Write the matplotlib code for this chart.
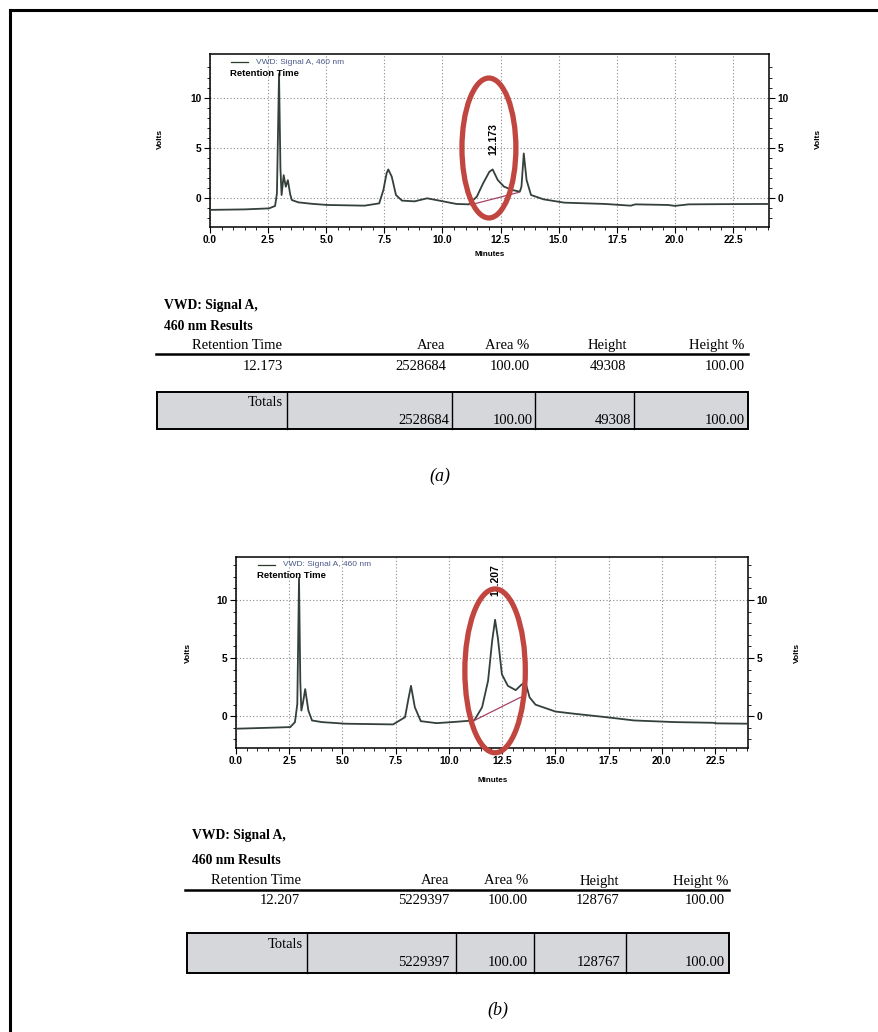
import matplotlib
matplotlib.use("Agg")
import matplotlib.pyplot as plt
from matplotlib.patches import Ellipse, Rectangle
from matplotlib.lines import Line2D

W, H = 879, 1032

# ---------------- data ----------------
# chromatogram (a)
t_a = [0.0, 1.5, 2.54, 2.8, 2.88, 2.97, 3.03, 3.08, 3.17, 3.26, 3.35, 3.45, 3.52, 3.8, 4.4, 5.04,
       6.65, 7.28, 7.46, 7.6, 7.67, 7.82, 8.0, 8.26, 8.8, 9.34, 9.87, 10.6, 11.13, 11.48, 11.75,
       12.02, 12.16, 12.38, 12.65, 13.0, 13.33, 13.4, 13.5, 13.62, 13.81, 14.35, 15.24, 17.0,
       18.1, 18.3, 19.7, 20.0, 20.6, 22.0, 24.1]
v_a = [-1.15, -1.1, -1.0, -0.76, 0.5, 12.4, 3.0, 0.33, 2.3, 1.15, 1.8, 0.4, -0.17, -0.4, -0.55, -0.66,
       -0.73, -0.5, 0.83, 2.5, 2.87, 2.15, 0.33, -0.23, -0.3, 0.0, -0.23, -0.56, -0.6, 0.17, 1.49,
       2.64, 2.87, 1.82, 1.16, 0.83, 0.66, 1.16, 4.46, 1.82, 0.33, -0.1, -0.43, -0.56,
       -0.73, -0.6, -0.66, -0.75, -0.6, -0.58, -0.56]
base_a_t = [11.2, 13.3]
base_a_v = [-0.65, 0.6]

# chromatogram (b)
t_b = [0.0, 1.5, 2.55, 2.77, 2.88, 2.96, 3.02, 3.07, 3.15, 3.25, 3.4, 3.57, 4.03, 5.15, 7.38,
       7.94, 8.1, 8.22, 8.4, 8.68, 9.42, 10.16, 10.72, 11.19, 11.56, 11.84, 12.03, 12.17, 12.3,
       12.49, 12.77, 13.14, 13.4, 13.6, 13.79, 14.07, 15.0, 15.93, 17.4, 18.7, 20.6, 22.4, 22.6, 24.1]
v_b = [-1.08, -1.0, -0.94, -0.51, 1.05, 11.9, 3.0, 0.48, 1.2, 2.33, 0.48, -0.37, -0.51, -0.65, -0.71,
       -0.09, 1.5, 2.61, 0.77, -0.43, -0.6, -0.51, -0.43, -0.37, 0.77, 3.04, 6.45, 8.3, 6.73,
       3.6, 2.61, 2.24, 2.7, 2.9, 1.62, 0.99, 0.4, 0.2, -0.09, -0.37, -0.51, -0.57, -0.62, -0.65]
base_b_t = [11.19, 13.36]
base_b_v = [-0.37, 1.62]

x_ticks = [0.0, 2.5, 5.0, 7.5, 10.0, 12.5, 15.0, 17.5, 20.0, 22.5]
x_ticklabels = ["0.0", "2.5", "5.0", "7.5", "10.0", "12.5", "15.0", "17.5", "20.0", "22.5"]
y_ticks = [0, 5, 10]

peak_a = "12.173"
peak_b = "12.207"
legend_text = "VWD: Signal A, 460 nm"

headers = ["Retention Time", "Area", "Area %", "Height", "Height %"]
row_a = ["12.173", "2528684", "100.00", "49308", "100.00"]
row_b = ["12.207", "5229397", "100.00", "128767", "100.00"]
totals_a = ["2528684", "100.00", "49308", "100.00"]
totals_b = ["5229397", "100.00", "128767", "100.00"]
title_lines = ["VWD: Signal A,", "460 nm Results"]

# ---------------- helpers ----------------
def fx(x):
    return x / W

def fy(y):
    return 1 - y / H

fig = plt.figure(figsize=(W / 100, H / 100), dpi=100)
fig.patch.set_facecolor("white")

SANS = "Liberation Sans"
SERIF = "Liberation Serif"
TRACE = "#34403a"
BASE = "#a8406a"
RED = "#c0463f"
TFS = 10.5

# outer frame (left and top)
fig.add_artist(Line2D([fx(10), fx(10)], [fy(10), 0], color="black", lw=2.2, transform=fig.transFigure))
fig.add_artist(Line2D([fx(10), 1], [fy(10), fy(10)], color="black", lw=2.2, transform=fig.transFigure))


def chrom(box, t, v, bt, bv, ylim, peak_label, peak_xy, ell, legend_px, volts_px, minutes_px):
    l, r, top, bot = box
    ax = fig.add_axes([fx(l), fy(bot), fx(r) - fx(l), fy(top) - fy(bot)])
    ax.set_xlim(0, 24.05)
    ax.set_ylim(*ylim)
    ax.plot(t, v, color=TRACE, lw=1.3, zorder=3)
    ax.plot(bt, bv, color=BASE, lw=0.9, zorder=3)
    ax.set_xticks(x_ticks)
    ax.set_xticklabels(x_ticklabels)
    ax.set_yticks(y_ticks)
    ax.set_xticks([x / 2 for x in range(0, 49)], minor=True)
    ax.set_yticks(list(range(-2, 14)), minor=True)
    ax.tick_params(which="major", length=4, width=0.8, direction="out", labelsize=7.3, pad=2,
                   right=True, labelright=True)
    ax.tick_params(which="minor", length=2, width=0.6, direction="out", right=True)
    for lab in ax.get_xticklabels() + ax.get_yticklabels():
        lab.set_fontfamily(SANS)
        lab.set_fontweight("bold")
    ax.grid(True, which="major", ls=(0, (1, 2)), color="#8a8a8a", lw=0.8)
    for s in ax.spines.values():
        s.set_linewidth(1.1)
    # peak label
    ax.text(peak_xy[0], peak_xy[1], peak_label, rotation=90, ha="center", va="center",
            fontsize=7.5, fontweight="bold", family=SANS, zorder=4)
    # red ellipse
    e = Ellipse(ell[:2], ell[2], ell[3], fill=False, ec=RED, lw=3.8, clip_on=False, zorder=6)
    ax.add_patch(e)
    # legend
    lx, ly = legend_px
    fig.add_artist(Line2D([fx(lx), fx(lx + 17)], [fy(ly), fy(ly)], color="#2b3a2b", lw=0.9,
                          transform=fig.transFigure))
    fig.text(fx(lx + 25), fy(ly), legend_text, fontsize=6.0, color="#4a5a8a", family=SANS,
             va="center", ha="left")
    fig.text(fx(lx - 1), fy(ly + 11), "Retention Time", fontsize=6.8, fontweight="bold",
             family=SANS, va="center", ha="left", zorder=10)
    # axis labels
    vl, vr, vy = volts_px
    fig.text(fx(vl), fy(vy), "Volts", rotation=90, fontsize=6.0, fontweight="bold", family=SANS,
             ha="center", va="center")
    fig.text(fx(vr), fy(vy), "Volts", rotation=90, fontsize=6.0, fontweight="bold", family=SANS,
             ha="center", va="center")
    fig.text(fx(minutes_px[0]), fy(minutes_px[1]), "Minutes", fontsize=5.8, fontweight="bold",
             family=SANS, ha="center", va="center")
    return ax


chrom((210, 769, 54, 227), t_a, v_a, base_a_t, base_a_v, (-2.85, 14.34), peak_a, (12.2, 5.9),
      (12.0, 5.0, 2.32, 13.9), (231, 62), (160, 818, 139), (490, 255))
chrom((236, 748, 557, 748), t_b, v_b, base_b_t, base_b_v, (-2.74, 13.7), peak_b, (12.2, 11.75),
      (12.17, 3.9, 2.84, 14.1), (258, 565), (188, 797, 653), (493, 780))


def table(title_x, title_ys, head_y, line_y, line_x, row_y, head_right, row_right,
          box, dividers, totals_y, totals_right, data_row, data_tot):
    fig.text(fx(title_x), fy(title_ys[0]), title_lines[0], fontsize=9.8, fontweight="bold",
             family=SERIF, va="center", ha="left")
    fig.text(fx(title_x), fy(title_ys[1]), title_lines[1], fontsize=9.8, fontweight="bold",
             family=SERIF, va="center", ha="left")
    for h, xr in zip(headers, head_right):
        fig.text(fx(xr), fy(head_y), h, fontsize=TFS, family=SERIF, va="center", ha="right")
    fig.add_artist(Line2D([fx(line_x[0]), fx(line_x[1])], [fy(line_y), fy(line_y)], color="black",
                          lw=1.8, transform=fig.transFigure))
    for val, xr in zip(data_row, row_right):
        fig.text(fx(xr), fy(row_y), val, fontsize=TFS, family=SERIF, va="center", ha="right")
    bl, bt, br, bb = box
    fig.add_artist(Rectangle((fx(bl), fy(bb)), fx(br) - fx(bl), fy(bt) - fy(bb), fc="#d6d7db",
                             ec="black", lw=1.4, transform=fig.transFigure))
    for d in dividers:
        fig.add_artist(Line2D([fx(d), fx(d)], [fy(bt), fy(bb)], color="black", lw=1.0,
                              transform=fig.transFigure))
    fig.text(fx(dividers[0] - 4), fy(totals_y[0]), "Totals", fontsize=TFS, family=SERIF,
             va="center", ha="right")
    for val, xr in zip(data_tot, totals_right):
        fig.text(fx(xr), fy(totals_y[1]), val, fontsize=TFS, family=SERIF, va="center", ha="right")


table(164, (305, 327), 346, 354, (156, 748), 366, (282, 445, 529, 627, 744),
      (283, 446, 530, 626, 745), (157, 392, 748, 429), (287, 452, 535, 634), (403, 420),
      (449, 533, 631, 745), row_a, totals_a)
table(192, (836, 861), 881, 890, (185, 729), 901, (301, 449, 528, 619, 728),
      (300, 449, 528, 619, 725), (187, 933, 729, 973), (307, 456, 534, 626), (945, 963),
      (449, 528, 620, 725), row_b, totals_b)

fig.text(fx(440), fy(476), "(a)", fontsize=13, style="italic", family=SERIF, ha="center",
         va="center")
fig.text(fx(498), fy(1010), "(b)", fontsize=13, style="italic", family=SERIF, ha="center",
         va="center")

fig.savefig("out.png", dpi=100, facecolor="white")
